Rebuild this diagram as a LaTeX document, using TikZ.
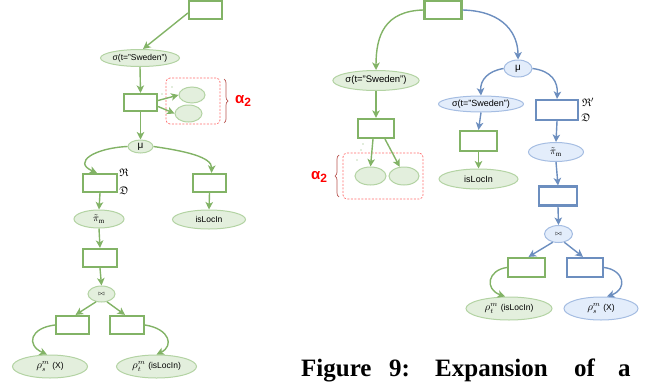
\documentclass[tikz,border=0pt]{standalone}
\usepackage{amssymb}
\usepackage{fontspec}
\setmainfont{Liberation Serif}
\setsansfont{Liberation Sans}
\usetikzlibrary{arrows.meta,decorations.pathreplacing,shapes.geometric}
\definecolor{gline}{HTML}{82B366}
\definecolor{gfill}{HTML}{E3EFDD}
\definecolor{gedge}{HTML}{B3D3A3}
\definecolor{bline}{HTML}{6C8EBF}
\definecolor{bfill}{HTML}{E3EDFB}
\definecolor{bedge}{HTML}{A5BDE2}
\definecolor{rdash}{HTML}{FF6B6B}
\definecolor{brc}{HTML}{B85450}
\newcommand{\rholab}[2]{{\fontsize{10.5}{10.5}\selectfont$\rho^{m}_{#1}$}\,\,#2}
\tikzset{
  grect/.style={rectangle, draw=gline, line width=2.2pt, fill=white, inner sep=0pt},
  brect/.style={rectangle, draw=bline, line width=2.2pt, fill=white, inner sep=0pt},
  gell/.style={ellipse, draw=gedge, fill=gfill, line width=1pt, inner sep=0pt, font=\sffamily\fontsize{8.5}{9}\selectfont},
  bell/.style={ellipse, draw=bedge, fill=bfill, line width=1pt, inner sep=0pt, font=\sffamily\fontsize{8.5}{9}\selectfont},
  arr/.style={-{Stealth[length=7.5pt,width=7.5pt,inset=2pt]}, line width=1.4pt},
  garr/.style={arr, draw=gline},
  barr/.style={arr, draw=bline},
  dbox/.style={draw=rdash, dashed, dash pattern=on 2pt off 1.5pt, line width=0.7pt, rounded corners=4pt},
  brc/.style={draw=brc, line width=0.7pt, decorate, decoration={brace, amplitude=4pt}},
  alab/.style={text=red, font=\sffamily\bfseries\fontsize{15}{15}\selectfont, inner sep=0pt},
  flab/.style={font=\fontsize{11}{11}\selectfont, inner sep=0pt},
  caption/.style={anchor=base west, inner sep=0pt, font=\fontsize{25}{25}\selectfont\bfseries}
}
\begin{document}
\begin{tikzpicture}[x=1pt,y=-1pt]
\useasboundingbox (0,0) rectangle (655,383);
% ================= LEFT =================
\node[grect, minimum width=33pt, minimum height=18pt] (LT) at (205.5,10) {};
\node[gell, minimum width=79pt, minimum height=17pt] (Lsig) at (140,58) {σ(t="Sweden")};
\node[grect, minimum width=33pt, minimum height=17pt] (L2) at (140.5,102.5) {};
\node[gell, minimum width=26pt, minimum height=16pt] (La1) at (192,95) {};
\node[gell, minimum width=27pt, minimum height=17pt] (La2) at (188.5,113.5) {};
\node[dbox, minimum width=54pt, minimum height=46pt] (Lbox) at (193,101) {};
\draw[brc] (224,79) -- (224,123);
\node[alab] (Lalpha) at (243,101) {α\raisebox{-0.35ex}{\fontsize{12}{12}\selectfont 2}};
\fill[gline] (162,94) circle (0.6);
\fill[gline] (172,87) circle (0.6);
\node[gell, minimum width=25pt, minimum height=13pt, font=\sffamily\fontsize{10}{10}\selectfont] (Lmu) at (140.5,146.5) {μ};
\node[grect, minimum width=34pt, minimum height=18pt] (L3) at (100,183) {};
\node[flab] (LR) at (124,173) {$\mathfrak{R}$};
\node[flab] (LD) at (124,191) {$\mathfrak{D}$};
\node[grect, minimum width=33pt, minimum height=18pt] (L4) at (209.5,183) {};
\node[gell, minimum width=73pt, minimum height=19pt] (LisLoc) at (209,219.5) {isLocIn};
\node[gell, minimum width=50pt, minimum height=18pt, font=\fontsize{10}{10}\selectfont] (Lpi) at (99,219) {$\tilde{\pi}_{\mathrm{m}}$};
\node[grect, minimum width=34pt, minimum height=18pt] (L5) at (100,258) {};
\node[gell, minimum width=27pt, minimum height=16pt] (Ljoin) at (101.5,294) {\fontsize{6}{6}\selectfont$\bowtie$};
\node[grect, minimum width=33pt, minimum height=18pt] (L6) at (72.5,325) {};
\node[grect, minimum width=34pt, minimum height=18pt] (L7) at (127,325) {};
\node[gell, minimum width=75pt, minimum height=23pt] (Lrhos) at (50,366.5) {\rholab{s}{(X)}};
\node[gell, minimum width=80pt, minimum height=23pt] (Lrhot) at (156.5,366.5) {\rholab{t}{(isLocIn)}};
% left connectors
\draw[garr] ([yshift=-3pt]LT.west) -- ([xshift=3pt]Lsig.north);
\draw[garr] (Lsig.south) -- (L2.north);
\draw[garr] ([yshift=2pt]L2.east) -- (La1.west);
\draw[garr] ([yshift=-4pt]L2.east) -- (La2.west);
\draw[garr] (L2.south) -- (Lmu.north);
\draw[garr] (Lmu.west) .. controls (95,148) and (72,162) .. ([xshift=-3pt]L3.north);
\draw[garr] (Lmu.east) .. controls (185,151) and (212,157) .. ([xshift=2pt]L4.north);
\draw[garr] (L3.south) -- (Lpi.north);
\draw[garr] (L4.south) -- (LisLoc.north);
\draw[garr] (Lpi.south) -- (L5.north);
\draw[garr] (L5.south) -- (Ljoin.north);
\draw[garr] (Ljoin.235) -- ([xshift=3pt]L6.north);
\draw[garr] (Ljoin.305) -- ([xshift=-2pt]L7.north);
\draw[garr] (L6.west) .. controls (30,328) and (26,345) .. ([xshift=-3pt]Lrhos.north);
\draw[garr] (L7.east) .. controls (170,329) and (174,346) .. (Lrhot.north);
% ================= RIGHT =================
\node[grect, minimum width=37pt, minimum height=18pt] (RT) at (443,10) {};
\node[gell, minimum width=86pt, minimum height=20pt, font=\sffamily\fontsize{9.5}{10}\selectfont] (Rsig) at (376,80.5) {σ(t="Sweden")};
\node[bell, minimum width=28pt, minimum height=17pt, font=\sffamily\fontsize{10}{10}\selectfont] (Rmu) at (518,68.5) {μ};
\node[bell, minimum width=85pt, minimum height=16pt, font=\sffamily\fontsize{9}{9}\selectfont] (Rsigb) at (481,104) {σ(t="Sweden")};
\node[brect, minimum width=42pt, minimum height=20pt] (Rrb) at (557,110) {};
\node[flab] (RR) at (588,102) {$\mathfrak{R}'$};
\node[flab] (RD) at (586,118) {$\mathfrak{D}$};
\node[grect, minimum width=36pt, minimum height=19pt] (Rg) at (376,128.5) {};
\node[gell, minimum width=31pt, minimum height=18pt] (Ra1) at (370.5,176) {};
\node[gell, minimum width=30pt, minimum height=18pt] (Ra2) at (404,176) {};
\node[dbox, minimum width=80pt, minimum height=46pt] (Rbox) at (383,176) {};
\draw[brc] (339,197) -- (339,155);
\node[alab] (Ralpha) at (319,177) {α\raisebox{-0.35ex}{\fontsize{12}{12}\selectfont 2}};
\fill[gline] (363,144) circle (0.6);
\fill[gline] (361,150) circle (0.6);
\fill[gline] (357,160) circle (0.6);
\node[grect, minimum width=37pt, minimum height=20pt] (Rg2) at (478.5,141) {};
\node[gell, minimum width=79pt, minimum height=20pt, font=\sffamily\fontsize{9}{9}\selectfont] (RisLoc) at (478.5,179) {isLocIn};
\node[bell, minimum width=55pt, minimum height=19pt, font=\fontsize{10}{10}\selectfont] (Rpi) at (556,152) {$\tilde{\pi}_{\mathrm{m}}$};
\node[brect, minimum width=38pt, minimum height=19pt] (Rb2) at (558,196) {};
\node[bell, minimum width=28pt, minimum height=17pt] (Rjoin) at (558.5,234) {\fontsize{6}{6}\selectfont$\bowtie$};
\node[grect, minimum width=37pt, minimum height=19pt] (Rg3) at (526.5,267.5) {};
\node[brect, minimum width=36pt, minimum height=19pt] (Rb3) at (585,267.5) {};
\node[gell, minimum width=86pt, minimum height=23pt] (Rrhot) at (509,308.5) {\rholab{t}{(isLocIn)}};
\node[bell, minimum width=74pt, minimum height=23pt] (Rrhos) at (601,308.5) {\rholab{s}{(X)}};
% right connectors
\draw[garr] (RT.west) .. controls (385,11) and (376,35) .. (Rsig.north);
\draw[barr] (RT.east) .. controls (505,11) and (518,35) .. (Rmu.north);
\draw[barr] (Rmu.west) .. controls (488,71) and (480,80) .. (Rsigb.north);
\draw[barr] (Rmu.east) .. controls (552,71) and (558,82) .. (Rrb.north);
\draw[garr] (Rsig.south) -- (Rg.north);
\draw[garr] ([xshift=-3pt]Rg.south) -- (Ra1.north);
\draw[garr] ([xshift=9pt]Rg.south) -- (Ra2.115);
\draw[barr] (Rsigb.south) -- (Rg2.north);
\draw[garr] (Rg2.south) -- (RisLoc.north);
\draw[barr] (Rrb.south) -- (Rpi.north);
\draw[barr] (Rpi.south) -- (Rb2.north);
\draw[barr] (Rb2.south) -- (Rjoin.north);
\draw[barr] (Rjoin.235) -- ([xshift=2pt]Rg3.north);
\draw[barr] (Rjoin.305) -- ([xshift=-2pt]Rb3.north);
\draw[garr] (Rg3.west) .. controls (488,270) and (484,289) .. ([xshift=-4pt]Rrhot.north);
\draw[barr] (Rb3.east) .. controls (624,270) and (628,289) .. ([xshift=6pt]Rrhos.north);
% ================= CAPTION =================
\node[caption] (c1) at (301,376) {Figure};
\node[caption] (c2) at (389,376) {9:};
\node[caption] (c3) at (435,376) {Expansion};
\node[caption] (c4) at (574,376) {of};
\node[caption] (c5) at (618,376) {a};
\end{tikzpicture}
\end{document}
